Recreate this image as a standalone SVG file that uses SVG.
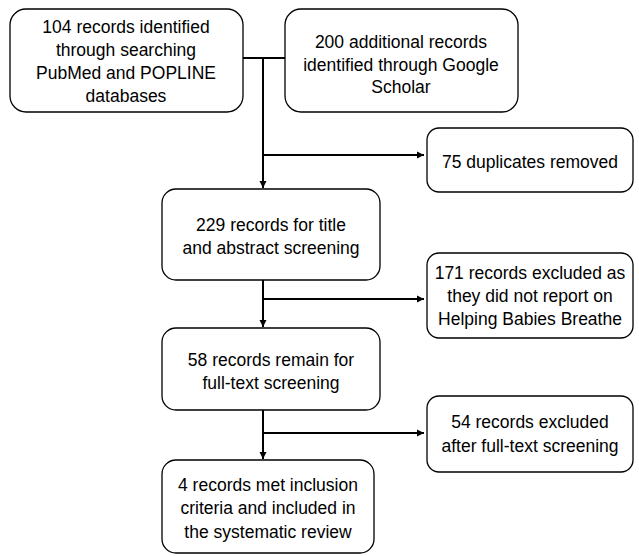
<svg xmlns="http://www.w3.org/2000/svg" width="639" height="556" viewBox="0 0 639 556">
<defs>
<marker id="ah" markerWidth="8" markerHeight="8" refX="7" refY="4" orient="auto" markerUnits="userSpaceOnUse">
<path d="M0,0.5 L7,4 L0,7.5 Z" fill="#000"/>
</marker>
<style>
.box{fill:#fff;stroke:#000;stroke-width:1.3}
.t{font-family:"Liberation Sans",Arial,sans-serif;font-size:17.5px;fill:#000;text-anchor:middle}
.c{fill:none;stroke:#000;stroke-width:2}
.ca{fill:none;stroke:#000;stroke-width:2;marker-end:url(#ah)}
</style>
</defs>
<rect width="639" height="556" fill="#fff"/>
<g id="connectors">
<path class="c" d="M242,58 H285"/>
<path class="ca" d="M263,58 V188"/>
<path class="ca" d="M263,155 H424"/>
<path class="ca" d="M263,280 V327"/>
<path class="ca" d="M263,299 H424"/>
<path class="ca" d="M263,410 V459"/>
<path class="ca" d="M263,433 H424"/>
</g>
<g id="n1"><rect class="box" x="10" y="9" width="233" height="103" rx="16"/>
<text class="t" x="126" y="33">104 records identified</text>
<text class="t" x="126" y="56">through searching</text>
<text class="t" x="126" y="79">PubMed and POPLINE</text>
<text class="t" x="126" y="102">databases</text></g>
<g id="n2"><rect class="box" x="285" y="9" width="233" height="103" rx="16"/>
<text class="t" x="401" y="48">200 additional records</text>
<text class="t" x="401" y="71">identified through Google</text>
<text class="t" x="401" y="93">Scholar</text></g>
<g id="n3"><rect class="box" x="427" y="128" width="206" height="64" rx="12"/>
<text class="t" x="530" y="168">75 duplicates removed</text></g>
<g id="n4"><rect class="box" x="162" y="189" width="218" height="91" rx="14"/>
<text class="t" x="271" y="231">229 records for title</text>
<text class="t" x="271" y="254">and abstract screening</text></g>
<g id="n5"><rect class="box" x="427" y="253" width="206" height="85" rx="12"/>
<text class="t" x="530" y="279">171 records excluded as</text>
<text class="t" x="530" y="302">they did not report on</text>
<text class="t" x="530" y="325">Helping Babies Breathe</text></g>
<g id="n6"><rect class="box" x="162" y="328" width="218" height="82" rx="14"/>
<text class="t" x="271" y="366">58 records remain for</text>
<text class="t" x="271" y="389">full-text screening</text></g>
<g id="n7"><rect class="box" x="427" y="396" width="206" height="76" rx="12"/>
<text class="t" x="530" y="428">54 records excluded</text>
<text class="t" x="530" y="452">after full-text screening</text></g>
<g id="n8"><rect class="box" x="162" y="460" width="212" height="93" rx="14"/>
<text class="t" x="268" y="491">4 records met inclusion</text>
<text class="t" x="268" y="514">criteria and included in</text>
<text class="t" x="268" y="538">the systematic review</text></g>
</svg>
